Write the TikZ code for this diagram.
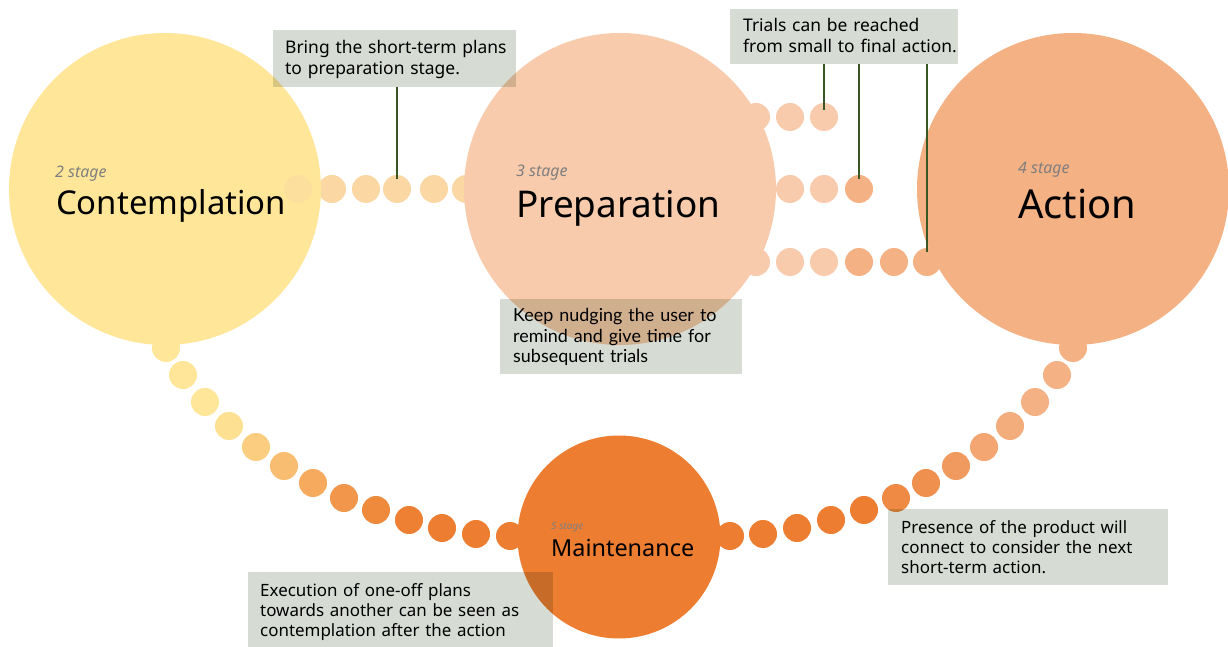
\documentclass[tikz,border=0pt]{standalone}
\usepackage{fontspec}
\setmainfont{Noto Sans}
\newfontfamily\latofont{Lato}
\usetikzlibrary{calc}

\definecolor{contempC}{HTML}{FFE699}
\definecolor{prepC}{HTML}{F8CBAD}
\definecolor{actC}{HTML}{F4B183}
\definecolor{maintC}{HTML}{ED7D31}
\definecolor{noteC}{HTML}{D6DCD4}
\definecolor{leadC}{HTML}{385723}
\definecolor{stageC}{HTML}{7F7F7F}
\colorlet{linkC}{prepC!55!contempC}

\tikzset{
  stagecircle/.style={circle, inner sep=0pt, draw=none},
  dot/.style={circle, inner sep=0pt, minimum size=28bp, draw=none},
  notebox/.style={rectangle, inner sep=0pt, draw=none, fill=noteC, anchor=north west},
  notetext/.style={anchor=base west, inner sep=0pt, text width=320bp, align=left,
    font=\fontsize{17.5}{21}\selectfont},
  stagelabel/.style={anchor=base west, inner sep=0pt, text=stageC},
  stagename/.style={anchor=base west, inner sep=0pt},
  leader/.style={draw=leadC, line width=2bp}
}

\begin{document}
\begin{tikzpicture}[x=1bp, y=-1bp]
  \useasboundingbox (0,0) rectangle (1228,647);
  \fill[white] (0,0) rectangle (1228,647);

  % dotted link Contemplation -> Preparation
  \foreach \x [count=\i] in {332,366,397,434,466}
    \node[dot, fill=linkC] (t\i) at (\x,189) {};

  % links Preparation -> Action (three trial rows)
  \foreach \x/\c [count=\i] in {756/prepC,790/prepC,824/prepC}
    \node[dot, fill=\c] (ra\i) at (\x,117) {};
  \foreach \x/\c [count=\i] in {790/prepC,824/prepC,859/actC}
    \node[dot, fill=\c] (rb\i) at (\x,189) {};
  \foreach \x/\c [count=\i] in {756/prepC,790/prepC,824/prepC,859/actC,894/actC,927/actC}
    \node[dot, fill=\c] (rc\i) at (\x,262) {};

  % stage circles
  \node[stagecircle, fill=contempC, minimum size=312bp] (contemp) at (165,189) {};
  \node[stagecircle, fill=prepC, minimum size=312bp] (prep) at (620,189) {};
  \node[stagecircle, fill=actC, minimum size=312bp] (action) at (1073,189) {};
  \node[stagecircle, fill=maintC, minimum size=203bp] (maint) at (619,537) {};

  % faint first link dot over Contemplation
  \node[dot, fill=linkC, fill opacity=0.45] (t0) at (298,189) {};

  % arc Contemplation -> Maintenance
  \foreach \x/\y/\p [count=\i] in {166/348/0,183/375/0,205/402/0,229/426/6,256/447/24,
      284/466/39,313/483/57,344/498/76,376/510/88,409/520/97,442/528/100,476/534/100,510/536/100}
    \node[dot, fill=maintC!\p!contempC] (la\i) at (\x,\y) {};

  % arc Maintenance -> Action
  \foreach \x/\y/\p [count=\i] in {730/536/0,763/534/0,797/528/0,831/520/0,864/510/0,
      896/498/25,926/483/37,956/466/56,984/447/79,1010/426/92,1035/402/100,1057/375/100,1073/348/100}
    \node[dot, fill=actC!\p!maintC] (lb\i) at (\x,\y) {};

  % note boxes, multiplied over the shapes below them
  \begin{scope}[blend mode=multiply]
    \node[notebox, minimum width=243bp, minimum height=57bp] (nBring) at (273,30) {};
    \node[notebox, minimum width=228bp, minimum height=55bp] (nTrials) at (730,9) {};
    \node[notebox, minimum width=242bp, minimum height=75bp] (nKeep) at (500,299) {};
    \node[notebox, minimum width=305bp, minimum height=76bp] (nExec) at (248,572) {};
    \node[notebox, minimum width=280bp, minimum height=76bp] (nPres) at (888,509) {};
  \end{scope}

  % leader lines
  \draw[leader] (nBring.south -| t3) -- ($(t3.center)+(0,-10)$);
  \draw[leader] (nTrials.south -| ra3) -- ($(ra3.center)+(0,-7)$);
  \draw[leader] (nTrials.south -| rb3) -- ($(rb3.center)+(0,-10)$);
  \draw[leader] (nTrials.south -| rc6) -- ($(rc6.center)+(0,-10)$);

  % note texts
  \node[notetext] (tBring) at (285,54) {Bring the short-term plans\\to preparation stage.};
  \node[notetext] (tTrials) at (743,32) {Trials can be reached\\from small to final action.};
  \node[notetext, font=\latofont\fontsize{18}{20.5}\selectfont] (tKeep) at (513,322)
    {Keep nudging the user to\\remind and give time for\\subsequent trials};
  \node[notetext, font=\fontsize{17}{20.5}\selectfont] (tExec) at (260,596)
    {Execution of one-off plans\\towards another can be seen as\\contemplation after the action};
  \node[notetext, font=\fontsize{17}{20.5}\selectfont] (tPres) at (901,533)
    {Presence of the product will\\connect to consider the next\\short-term action.};

  % stage labels
  \node[stagelabel, font=\fontsize{16}{16}\selectfont\itshape] (s2) at (55,178) {2 stage};
  \node[stagename, font=\fontsize{33}{33}\selectfont] (n2) at (56,215) {Contemplation};
  \node[stagelabel, font=\fontsize{16}{16}\selectfont\itshape] (s3) at (516,177) {3 stage};
  \node[stagename, font=\fontsize{37}{37}\selectfont] (n3) at (516,218) {Preparation};
  \node[stagelabel, font=\fontsize{16}{16}\selectfont\itshape] (s4) at (1018,174) {4 stage};
  \node[stagename, font=\fontsize{40}{40}\selectfont] (n4) at (1018,219) {Action};
  \node[stagelabel, font=\fontsize{10}{10}\selectfont\itshape] (s5) at (551,529) {5 stage};
  \node[stagename, font=\fontsize{23.5}{23.5}\selectfont] (n5) at (551,556) {Maintenance};
\end{tikzpicture}
\end{document}
